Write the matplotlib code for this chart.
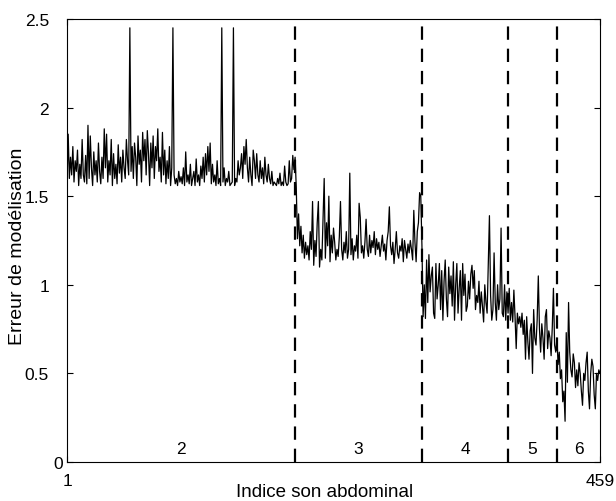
import numpy as np
import matplotlib
matplotlib.use("Agg")
import matplotlib.pyplot as plt
import matplotlib.transforms as mtransforms

plt.rcParams['font.family'] = ['Liberation Sans', 'DejaVu Sans']

# modelling error per abdominal sound, grouped by class
err_class2 = [
    1.58, 1.85, 1.60, 1.72, 1.62, 1.78, 1.58, 1.70, 1.64, 1.76, 1.56, 1.68, 1.60, 1.82,
    1.62, 1.58, 1.73, 1.57, 1.90, 1.60, 1.84, 1.66, 1.56, 1.75, 1.62, 1.70, 1.58, 1.80,
    1.64, 1.57, 1.72, 1.60, 1.88, 1.66, 1.85, 1.58, 1.70, 1.62, 1.82, 1.56, 1.74, 1.60,
    1.68, 1.57, 1.79, 1.63, 1.72, 1.58, 1.76, 1.66, 1.60, 1.82, 1.70, 1.62, 2.45, 1.64,
    1.78, 1.60, 1.80, 1.72, 1.56, 1.84, 1.68, 1.76, 1.58, 1.86, 1.70, 1.82, 1.62, 1.87,
    1.74, 1.56, 1.80, 1.66, 1.84, 1.60, 1.78, 1.70, 1.88, 1.64, 1.72, 1.58, 1.86, 1.62,
    1.76, 1.57, 1.70, 1.60, 1.78, 1.56, 1.66, 2.45, 1.62, 1.57, 1.60, 1.56, 1.64, 1.58,
    1.61, 1.57, 1.66, 1.56, 1.75, 1.58, 1.62, 1.57, 1.68, 1.56, 1.60, 1.64, 1.56, 1.71,
    1.58, 1.62, 1.56, 1.67, 1.60, 1.72, 1.58, 1.74, 1.62, 1.78, 1.64, 1.80, 1.57, 1.68,
    1.58, 1.62, 1.56, 1.70, 1.57, 1.60, 1.56, 2.45, 1.58, 1.66, 1.56, 1.60, 1.58, 1.64,
    1.56, 1.57, 1.58, 2.45, 1.56, 1.60, 1.58, 1.70, 1.62, 1.66, 1.74, 1.60, 1.78, 1.68,
    1.82, 1.66, 1.58, 1.72, 1.62, 1.56, 1.76, 1.70, 1.60, 1.74, 1.62, 1.58, 1.70, 1.60,
    1.66, 1.57, 1.72, 1.62, 1.58, 1.68, 1.60, 1.57, 1.64, 1.56, 1.58, 1.57, 1.56, 1.60,
    1.57, 1.63, 1.56, 1.58, 1.56, 1.67, 1.58, 1.56, 1.57, 1.70, 1.58, 1.60, 1.73, 1.65,
]
err_class3 = [
    1.72, 1.55, 1.26, 1.40, 1.22, 1.33, 1.18, 1.28, 1.15, 1.24, 1.17, 1.22, 1.14, 1.30,
    1.20, 1.47, 1.11, 1.25, 1.16, 1.35, 1.47, 1.10, 1.20, 1.14, 1.38, 1.60, 1.15, 1.35,
    1.22, 1.50, 1.13, 1.28, 1.18, 1.32, 1.24, 1.14, 1.20, 1.16, 1.27, 1.47, 1.20, 1.14,
    1.24, 1.18, 1.30, 1.15, 1.20, 1.63, 1.17, 1.26, 1.14, 1.22, 1.19, 1.28, 1.15, 1.46,
    1.38, 1.18, 1.22, 1.15, 1.24, 1.37, 1.20, 1.16, 1.28, 1.18, 1.25, 1.21, 1.30, 1.17,
    1.26, 1.20, 1.24, 1.16, 1.22, 1.28, 1.19, 1.23, 1.14, 1.25, 1.30, 1.44, 1.22, 1.17,
    1.24, 1.12, 1.20, 1.30, 1.18, 1.15, 1.22, 1.19, 1.26, 1.13, 1.25, 1.20, 1.15, 1.23,
    1.18, 1.25, 1.20, 1.14, 1.42, 1.24, 1.13, 1.30, 1.35, 1.52, 1.50, 1.22,
]
err_class4 = [
    0.82, 1.00, 0.81, 1.14, 0.90, 1.17, 0.96, 1.05, 1.10, 0.84, 0.81, 1.12, 0.92, 1.00,
    1.12, 0.86, 1.08, 0.80, 1.02, 1.14, 0.92, 0.82, 1.10, 0.95, 1.05, 0.88, 1.13, 0.80,
    1.00, 1.12, 0.84, 0.98, 1.08, 0.80, 1.12, 0.94, 1.06, 0.85, 0.88, 1.02, 0.92, 1.06,
    1.11, 0.98, 1.08, 0.86, 0.94, 0.90, 1.02, 0.84, 0.96, 0.88, 0.79, 1.00, 0.90, 0.84,
    1.12, 1.39, 0.94, 0.80, 0.86, 1.18, 0.90, 0.80, 1.00, 0.86, 0.92, 1.32, 0.84, 0.82,
    1.00, 0.80, 0.96, 0.84,
]
err_class5 = [
    0.98, 0.80, 0.90, 0.79, 0.97, 0.82, 0.64, 0.84, 0.78, 0.82, 0.76, 0.84, 0.72, 0.80,
    0.58, 0.82, 0.68, 0.58, 0.74, 0.78, 0.50, 0.86, 0.70, 0.66, 0.80, 1.05, 0.75, 0.62,
    0.78, 0.70, 0.58, 0.82, 0.86, 0.64, 0.74, 0.70, 0.60, 0.76, 0.98, 0.66, 0.62, 0.70,
]
err_class6 = [
    0.55, 0.62, 0.47, 0.52, 0.34, 0.40, 0.23, 0.73, 0.45, 0.90, 0.62, 0.52, 0.48, 0.61,
    0.56, 0.42, 0.52, 0.43, 0.56, 0.50, 0.40, 0.32, 0.50, 0.46, 0.56, 0.62, 0.40, 0.30,
    0.50, 0.58, 0.54, 0.38, 0.30, 0.50, 0.46, 0.52, 0.50,
]

class_names = ['2', '3', '4', '5', '6']
class_bounds = [1, 197, 306, 380, 422, 459]   # separators at the inner values

err = np.array(err_class2 + err_class3 + err_class4 + err_class5 + err_class6)
idx = np.arange(1, len(err) + 1)

fig = plt.figure(figsize=(6.16, 5.02), dpi=100)
ax = fig.add_axes([0.1088, 0.0777, 0.8652, 0.8825])

ax.plot(idx, err, color='black', linewidth=0.9)

for xb in class_bounds[1:-1]:
    ax.plot([xb, xb], [0, 2.5], color='black', linewidth=1.6, linestyle=(0, (6, 4)))

for name, lo, hi in zip(class_names, class_bounds[:-1], class_bounds[1:]):
    ax.text((lo + hi) / 2, 0.075, name, ha='center', va='center', fontsize=12.5)

ax.set_xlim(1, 459)
ax.set_ylim(0, 2.5)
ax.set_xticks([1, 459])
ax.set_yticks([0, 0.5, 1, 1.5, 2, 2.5])
ax.set_yticklabels(['0', '0.5', '1', '1.5', '2', '2.5'])
ax.tick_params(direction='in', length=4, width=0.8, labelsize=12.5, top=True, right=True)
ax.tick_params(axis='y', pad=13)
ax.tick_params(axis='x', pad=8)
for s in ax.spines.values():
    s.set_linewidth(0.8)

# matlab pushes the "0" label right so it does not collide with the "1"
zero_lbl = ax.yaxis.get_major_ticks()[0].label1
zero_lbl.set_transform(zero_lbl.get_transform() +
                       mtransforms.ScaledTranslation(14 / 100, 0, fig.dpi_scale_trans))

ax.set_xlabel('Indice son abdominal', fontsize=13.5)
ax.set_ylabel('Erreur de modélisation', fontsize=14)
ax.xaxis.set_label_coords(0.483, -0.048)
ax.yaxis.set_label_coords(-0.077, 0.49)

plt.savefig('out.png', dpi=100)
